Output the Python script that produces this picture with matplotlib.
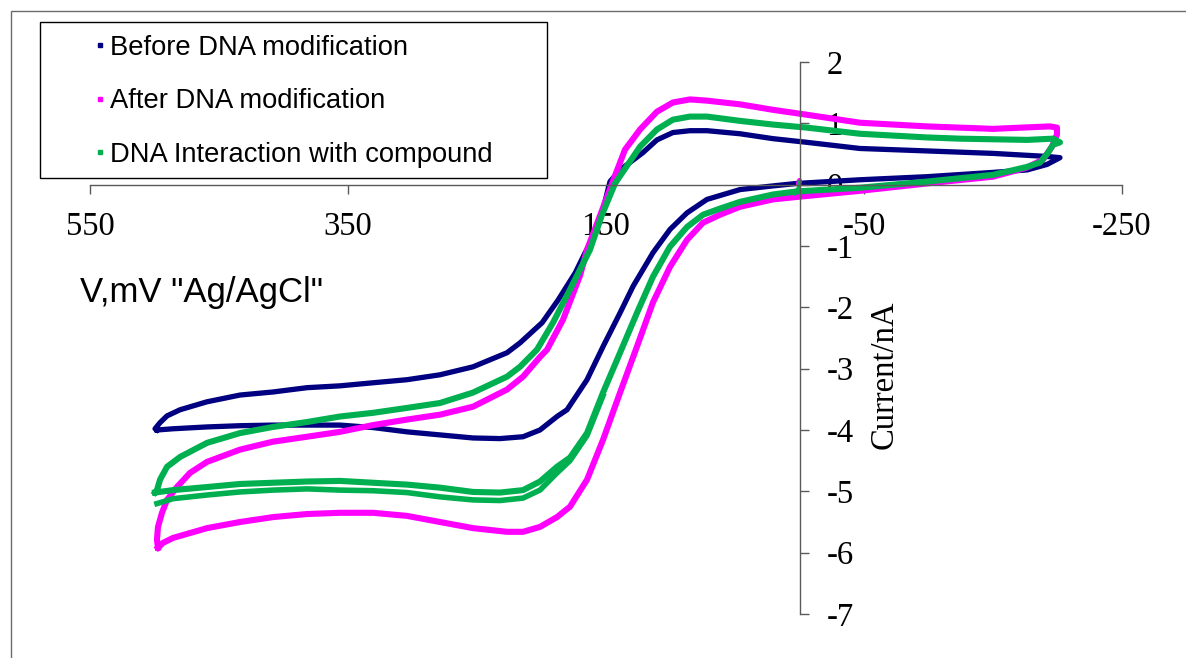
import matplotlib.pyplot as plt
from matplotlib.lines import Line2D
from matplotlib.patches import Rectangle

plt.rcParams['axes.unicode_minus'] = False

# Before DNA modification (one closed loop), mV and nA
before_v = [498.1, 485.7, 459.3, 433.7, 408.1, 381.8, 356.2, 330.6, 304.3, 278.7, 253.1, 232.2,
            214.3, 201.2, 188.0, 180.2, 164.7, 152.3, 139.1, 129.1, 113.6, 100.4, 87.2, 71.7,
            46.1, 20.5, 2.0, -46.9, -98.8, -150.0, -176.4, -191.9, -201.9,
            -191.9, -150.0, -98.8, -46.9, -5.8, 20.5, 46.1, 71.7, 84.9, 98.1, 110.5, 121.5,
            139.1, 146.9, 153.0, 160.7, 166.2, 173.9, 187.1, 199.5, 216.7, 226.7, 253.1, 278.7,
            304.3, 330.6, 356.2, 381.8, 408.1, 433.7, 459.3, 480.2, 490.3, 495.7, 499.6, 498.1]
before_i = [-4.00, -3.98, -3.95, -3.93, -3.92, -3.92, -3.92, -3.96, -4.03, -4.08, -4.13, -4.14,
            -4.11, -4.00, -3.78, -3.67, -3.18, -2.64, -2.09, -1.66, -1.11, -0.73, -0.46, -0.24,
            -0.08, -0.02, 0.02, 0.08, 0.13, 0.20, 0.24, 0.33, 0.44,
            0.46, 0.51, 0.55, 0.59, 0.69, 0.75, 0.83, 0.88, 0.88, 0.85, 0.73, 0.52,
            0.24, 0.05, -0.46, -0.90, -1.11, -1.44, -1.88, -2.25, -2.58, -2.74, -2.97, -3.10,
            -3.18, -3.23, -3.28, -3.31, -3.38, -3.43, -3.54, -3.67, -3.77, -3.88, -3.98, -4.00]

# After DNA modification
after_v = [497.3, 493.4, 485.7, 459.3, 433.7, 408.1, 381.8, 356.2, 330.6, 304.3, 278.7, 253.1,
           226.7, 214.3, 201.2, 188.0, 177.9, 164.7, 152.3, 139.1, 126.0, 113.6, 100.4, 87.2,
           74.8, 61.6, 46.1, 20.5, 2.0, -46.9, -98.8, -150.0, -176.4, -188.8, -195.7, -199.6,
           -199.6, -194.2, -150.0, -98.8, -46.9, -5.8, 20.5, 46.1, 71.7, 84.9, 98.1, 110.5,
           123.6, 135.3, 145.3, 154.7, 164.7, 170.1, 183.3, 195.7, 201.2, 214.3, 226.7, 253.1,
           278.7, 304.3, 330.6, 356.2, 381.8, 408.1, 433.7, 459.3, 472.5, 482.6, 490.3, 494.2,
           497.3, 498.1, 497.3]
after_i = [-5.92, -5.84, -5.76, -5.60, -5.50, -5.42, -5.37, -5.35, -5.35, -5.40, -5.50, -5.60,
           -5.66, -5.66, -5.58, -5.42, -5.25, -4.81, -4.16, -3.39, -2.64, -1.92, -1.34, -0.90,
           -0.62, -0.49, -0.36, -0.24, -0.20, -0.10, 0.02, 0.13, 0.28, 0.41, 0.62, 0.82,
           0.93, 0.95, 0.91, 0.95, 1.01, 1.14, 1.22, 1.31, 1.37, 1.39, 1.34, 1.19,
           0.90, 0.57, 0.02, -0.51, -1.06, -1.48, -2.20, -2.69, -2.81, -3.13, -3.34, -3.62,
           -3.75, -3.83, -3.92, -4.03, -4.11, -4.19, -4.32, -4.52, -4.70, -4.93, -5.14, -5.35,
           -5.58, -5.79, -5.92]
# start of the scan near 0 mV
after_start_v = [0.0, 1.0]
after_start_i = [0.07, 0.02]

# DNA interaction with compound, first scan
inter_v = [499.6, 485.7, 459.3, 433.7, 408.1, 381.8, 356.2, 330.6, 304.3, 278.7, 253.1, 232.2,
           214.3, 201.2, 188.0, 177.9, 164.7, 152.3, 139.1, 126.0, 113.6, 100.4, 87.2, 74.8,
           61.6, 46.1, 20.5, 2.0, -46.9, -98.8, -150.0, -176.4, -186.4, -192.6, -196.5, -201.9,
           -196.5, -176.4, -124.4, -98.8, -46.9, -5.8, 20.5, 46.1, 71.7, 84.9, 98.1, 110.5,
           123.6, 143.0, 153.1, 162.4, 177.9, 191.1, 203.5, 216.7, 226.7, 253.1, 278.7, 304.3,
           330.6, 356.2, 381.8, 408.1, 433.7, 459.3, 480.2, 490.3, 495.7, 498.1, 499.6]
inter_i = [-5.02, -4.98, -4.93, -4.88, -4.86, -4.84, -4.83, -4.86, -4.89, -4.94, -5.01, -5.02,
           -4.98, -4.84, -4.60, -4.45, -4.05, -3.39, -2.74, -2.09, -1.50, -1.01, -0.69, -0.49,
           -0.39, -0.28, -0.16, -0.11, -0.05, 0.05, 0.16, 0.29, 0.36, 0.52, 0.65, 0.69,
           0.75, 0.73, 0.75, 0.77, 0.83, 0.93, 0.98, 1.04, 1.11, 1.11, 1.06, 0.90,
           0.62, 0.02, -0.49, -1.06, -1.71, -2.25, -2.69, -2.97, -3.13, -3.39, -3.56, -3.64,
           -3.72, -3.78, -3.87, -3.95, -4.05, -4.21, -4.44, -4.60, -4.81, -4.98, -5.02]
inter_start_v = [0.0, 0.5, 4.0]
inter_start_i = [0.04, -0.05, -0.15]

# DNA interaction with compound, second scan (lower branch that separates)
inter2_v = [498.1, 485.7, 459.3, 433.7, 408.1, 381.8, 356.2, 330.6, 304.3, 278.7, 253.1, 232.2,
            214.3, 201.2, 188.0, 177.9, 164.7, 152.3]
inter2_i = [-5.20, -5.12, -5.06, -5.01, -4.98, -4.96, -4.98, -4.99, -5.02, -5.09, -5.14, -5.15,
            -5.11, -4.98, -4.70, -4.50, -4.09, -3.44]

labels = ["Before DNA modification", "After DNA modification", "DNA Interaction with compound"]
colors = ["#000080", "#FF00FF", "#00B050"]

W, H = 1186, 658
fig = plt.figure(figsize=(W / 100, H / 100), dpi=100)
ax = fig.add_axes([90 / W, 1 - 614 / H, 1032 / W, 552 / H])

ax.plot(before_v, before_i, color=colors[0], lw=3.8, solid_joinstyle='round')
ax.plot(after_v, after_i, color=colors[1], lw=4.4, solid_joinstyle='round')
ax.plot(after_start_v, after_start_i, color=colors[1], lw=3.5, solid_capstyle='round')
ax.plot(inter2_v, inter2_i, color=colors[2], lw=4.0, solid_joinstyle='round')
ax.plot(inter_v, inter_i, color=colors[2], lw=4.4, solid_joinstyle='round')
ax.plot(inter_start_v, inter_start_i, color=colors[2], lw=3.0, solid_capstyle='round')

ax.set_xlim(550, -250)
ax.set_ylim(-7, 2)
ax.set_facecolor('none')

axis_col = '#5a5a5a'
ax.spines['top'].set_visible(False)
ax.spines['left'].set_visible(False)
ax.spines['bottom'].set_position(('data', 0))
ax.spines['right'].set_position(('data', 0))
for s in ['bottom', 'right']:
    ax.spines[s].set_color(axis_col)
    ax.spines[s].set_linewidth(1)
ax.yaxis.tick_right()

ax.set_xticks([550, 350, 150, -50, -250])
ax.set_yticks(range(-7, 3))
ax.tick_params(axis='x', direction='out', length=6.5, width=1, color=axis_col, pad=13,
               labelsize=23.5)
ax.tick_params(axis='y', direction='out', length=6.5, width=1, color=axis_col, pad=13,
               labelsize=23.5)
for lab in ax.get_xticklabels() + ax.get_yticklabels():
    lab.set_fontfamily('Liberation Serif')

ax.text(-66, -3.1, 'Current/nA', rotation=90, ha='center', va='center',
        family='Liberation Serif', fontsize=23.5)
ax.text(558, -1.91, 'V,mV "Ag/AgCl"', ha='left', va='baseline',
        family='Liberation Sans', fontsize=25)

handles = [Line2D([], [], color=c, marker='s', markersize=2.5, linestyle='None') for c in colors]
leg = fig.legend(handles, labels, loc='upper left', bbox_to_anchor=(96 / W, 1 - 35 / H),
                 bbox_transform=fig.transFigure, frameon=False, borderpad=0, borderaxespad=0,
                 handlelength=0.3, handletextpad=0.2, labelspacing=1.0,
                 prop={'family': 'Liberation Sans', 'size': 19.7})

fig.add_artist(Rectangle((40 / W, 1 - 178 / H), 507 / W, 156 / H, transform=fig.transFigure,
                         fill=False, edgecolor='black', lw=1))
fig.add_artist(Rectangle((11 / W, -0.1), 1.5, 1.1 - 11 / H, transform=fig.transFigure,
                         fill=False, edgecolor='#6b6b6b', lw=1))

fig.savefig('out.png', dpi=100)
